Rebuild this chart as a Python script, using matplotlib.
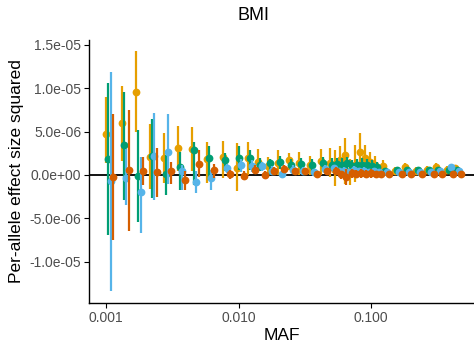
import numpy as np
import matplotlib
matplotlib.use("Agg")
import matplotlib.pyplot as plt
from matplotlib.ticker import FuncFormatter, NullLocator

plt.rcParams['font.family'] = ['Liberation Sans', 'DejaVu Sans']

# MAF bin centres
maf = [0.001063, 0.001391, 0.001790, 0.002263, 0.002887, 0.003683, 0.004695,
       0.006093, 0.008046, 0.010264, 0.012430, 0.014783, 0.017584, 0.020920,
       0.025331, 0.030140, 0.036500, 0.044180,
       0.05165, 0.05633, 0.06147, 0.06707, 0.07313, 0.07976, 0.08702,
       0.09493, 0.10354, 0.11293,
       0.12977, 0.15993, 0.19020, 0.23032, 0.27890, 0.32608, 0.39459, 0.45341]

# effect size squared (x 1e-6): estimate, lower, upper
orange_val = [4.7, 6.0, 9.6, 2.1, 1.9, 3.15, 3.0, 1.8, 2.1, 0.8, 2.0, 1.5, 1.0, 1.4,
              1.7, 1.35, 1.15, 1.65,
              1.35, 0.6, 1.7, 2.3, 0.5, 1.1, 2.7, 2.0, 1.5, 1.2,
              1.04, 0.5, 0.9, 0.5, 0.6, 0.96, 0.6, 0.77]
orange_lo = [1.4, 1.65, 5.0, -1.6, -0.96, 0.4, 0.4, -0.96, -0.4, -1.9, 0.0, 0.4, -0.2, 0.0,
             0.6, 0.0, 0.0, 0.0,
             -0.2, -1.3, 0.2, -1.0, -1.2, -0.8, 1.15, 0.5, 0.2, 0.1,
             0.0, 0.1, 0.3, 0.1, 0.2, 0.3, 0.2, 0.2]
orange_hi = [9.0, 10.3, 14.3, 5.9, 4.8, 5.65, 5.5, 3.84, 3.95, 3.65, 3.84, 3.0, 2.1, 2.9,
             2.5, 2.7, 2.2, 3.0,
             3.07, 2.9, 3.3, 4.2, 1.8, 3.5, 4.8, 3.5, 2.6, 2.2,
             1.73, 0.9, 1.4, 0.9, 1.0, 1.4, 1.0, 1.2]

green_val = [1.8, 3.4, -0.1, 2.2, 0.1, 0.9, 2.9, 1.9, 1.7, 2.0, 2.0, 1.2, 1.4, 1.5,
             1.15, 1.3, 1.15, 1.4,
             1.2, 1.3, 1.2, 1.4, 1.0, 1.1, 1.2, 1.1, 1.0, 0.9,
             0.5, 0.6, 0.6, 0.6, 0.6, 0.6, 0.6, 0.6]
green_lo = [-6.9, -2.9, -5.4, -2.65, -2.3, -1.7, -1.15, -0.6, 0.4, 0.6, 0.6, 0.4, 0.0, 0.7,
            0.5, 0.6, 0.5, 0.7,
            0.5, 0.6, 0.5, 0.7, 0.3, 0.4, 0.5, 0.4, 0.3, 0.3,
            0.2, 0.3, 0.3, 0.3, 0.3, 0.3, 0.3, 0.3]
green_hi = [10.6, 9.6, 5.2, 6.45, 2.3, 2.6, 3.8, 3.3, 2.5, 3.3, 2.9, 2.0, 1.8, 2.2,
            1.8, 1.9, 1.8, 2.1,
            1.9, 2.0, 1.9, 2.1, 1.7, 1.8, 1.9, 1.8, 1.7, 1.5,
            0.8, 0.9, 0.9, 0.9, 0.9, 0.9, 0.9, 0.9]

blue_val = [-0.7, -0.3, -2.0, 2.2, 2.6, 0.4, -0.8, -0.3, 0.8, 1.1, 1.0, 1.0, 0.5, 0.1,
            0.6, 0.5, 0.3, 0.7,
            0.8, 0.4, 0.5, 0.3, 0.6, 0.4, 0.5, 0.3, 0.4, 0.3,
            0.3, 0.3, 0.3, 0.3, 0.3, 0.4, 0.9, 0.5]
blue_lo = [-13.4, -3.5, -6.7, -2.9, -1.0, -1.7, -2.1, -1.7, 0.2, 0.3, 0.3, 0.4, 0.0, -0.3,
           0.1, 0.1, -0.1, 0.3,
           0.4, 0.0, 0.1, -0.1, 0.2, 0.0, 0.1, -0.1, 0.0, -0.1,
           0.1, 0.1, 0.1, 0.1, 0.1, 0.2, 0.6, 0.3]
blue_hi = [11.9, 3.0, 2.1, 7.1, 7.0, 1.15, 0.4, 0.6, 1.3, 1.8, 1.7, 1.5, 1.0, 0.5,
           1.1, 0.9, 0.7, 1.1,
           1.2, 0.8, 0.9, 0.7, 1.0, 0.8, 0.9, 0.7, 0.8, 0.7,
           0.5, 0.5, 0.5, 0.5, 0.5, 0.6, 1.2, 0.7]

red_val = [-0.2, 0.6, 0.5, 0.3, 0.4, -0.6, 1.3, 0.6, 0.1, -0.1, 0.6, 0.0, 0.5, 0.65,
           0.4, 0.4, 0.15, 0.4,
           0.5, 0.1, -0.2, 0.2, 0.1, 0.2, 0.1, 0.2, 0.1, 0.1,
           0.1, 0.1, 0.1, 0.1, 0.1, 0.1, 0.1, 0.1]
red_lo = [-7.5, -6.45, -1.15, -2.5, -1.0, -1.7, -0.2, -0.3, -0.5, -0.6, 0.1, -0.4, 0.1, 0.2,
          0.0, 0.0, -0.2, 0.0,
          0.1, -0.5, -1.15, -0.3, -0.4, -0.3, -0.4, -0.3, -0.3, -0.3,
          -0.05, -0.05, -0.05, -0.05, -0.05, -0.05, -0.05, -0.05]
red_hi = [7.0, 7.5, 2.1, 3.1, 1.5, 0.4, 2.9, 1.3, 0.6, 0.5, 1.1, 0.4, 0.9, 1.1,
          0.8, 0.8, 0.5, 0.8,
          0.9, 0.5, 0.7, 0.7, 0.6, 0.7, 0.6, 0.7, 0.5, 0.5,
          0.25, 0.25, 0.25, 0.25, 0.25, 0.25, 0.25, 0.25]

series = [
    (orange_val, orange_lo, orange_hi, '#E69F00'),
    (green_val, green_lo, green_hi, '#009E73'),
    (blue_val, blue_lo, blue_hi, '#56B4E9'),
    (red_val, red_lo, red_hi, '#D55E00'),
]

SCALE = 1e-6
DODGE = 0.0175  # decades between neighbouring series

fig = plt.figure(figsize=(4.74, 3.5), dpi=100)
ax = fig.add_axes([0.188, 0.134, 0.812, 0.752])

ax.axhline(0, color='black', lw=1.3, zorder=1)

x_log = np.log10(maf)
for k, (val, lo, hi, col) in enumerate(series):
    xs = 10 ** (x_log + (k - 1.5) * DODGE)
    v = np.array(val) * SCALE
    l = np.array(lo) * SCALE
    h = np.array(hi) * SCALE
    ax.vlines(xs, l, h, color=col, lw=1.6, zorder=2 + k)
    ax.plot(xs, v, 'o', color=col, ms=5.6, mew=0, zorder=2 + k)

ax.set_xscale('log')
ax.set_xlim(10 ** -3.128, 10 ** -0.2226)
ax.set_ylim(-1.475e-5, 1.555e-5)

ax.set_xticks([0.001, 0.01, 0.1])
ax.xaxis.set_minor_locator(NullLocator())
ax.xaxis.set_major_formatter(FuncFormatter(lambda v, p: f"{v:.3f}"))
ax.set_yticks([-1e-5, -5e-6, 0, 5e-6, 1e-5, 1.5e-5])
ax.yaxis.set_major_formatter(FuncFormatter(lambda v, p: f"{v:.1e}"))

for side in ['top', 'right']:
    ax.spines[side].set_visible(False)
for side in ['left', 'bottom']:
    ax.spines[side].set_linewidth(1.0)
ax.tick_params(axis='both', length=3.5, width=0.8, colors='black',
               labelcolor='#4D4D4D', labelsize=10, pad=2)

ax.set_xlabel('MAF', fontsize=12.5, labelpad=2)
ax.set_ylabel('Per-allele effect size squared', fontsize=12.5, labelpad=4)
fig.text(0.534, 0.955, 'BMI', fontsize=13, ha='center', va='center')

plt.savefig('out.png', dpi=100)
